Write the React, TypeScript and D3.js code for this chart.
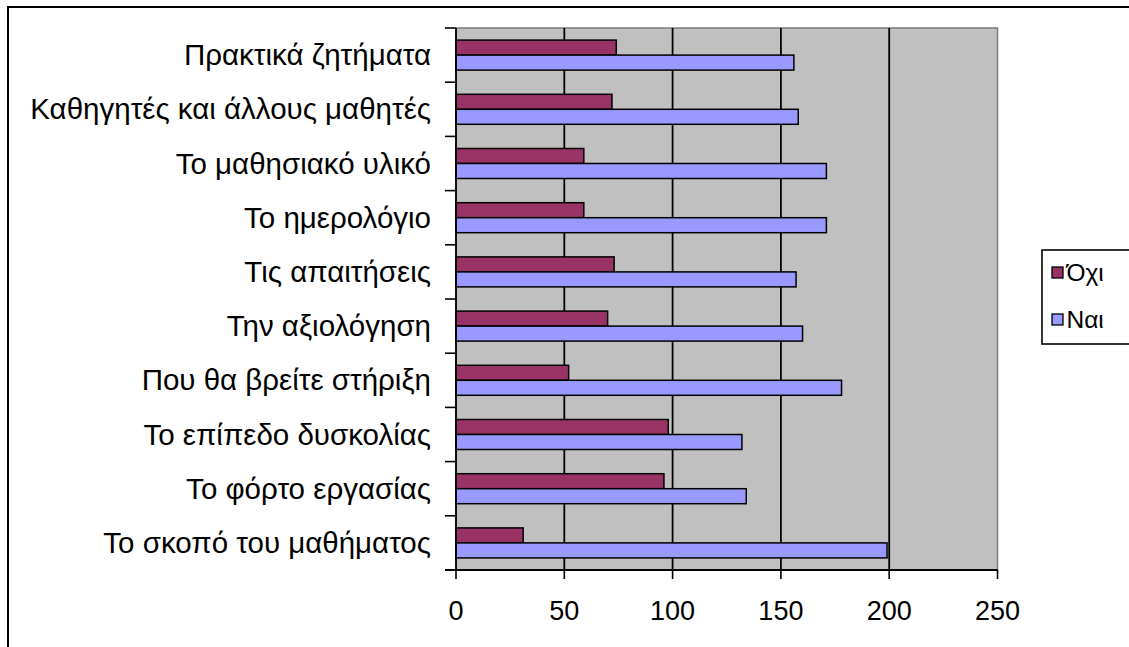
import React from "react";
import * as d3 from "d3";

// Categories listed top to bottom as they appear on the vertical axis
const categories = [
  "Πρακτικά ζητήματα",
  "Καθηγητές και άλλους μαθητές",
  "Το μαθησιακό υλικό",
  "Το ημερολόγιο",
  "Τις απαιτήσεις",
  "Την αξιολόγηση",
  "Που θα βρείτε στήριξη",
  "Το επίπεδο δυσκολίας",
  "Το φόρτο εργασίας",
  "Το σκοπό του μαθήματος",
];

const seriesNames = ["Όχι", "Ναι"];
const noValues = [74, 72, 59, 59, 73, 70, 52, 98, 96, 31];
const yesValues = [156, 158, 171, 171, 157, 160, 178, 132, 134, 199];
const xTicks = [0, 50, 100, 150, 200, 250];

const seriesColors: Record<string, string> = { "Όχι": "#993366", "Ναι": "#9999FF" };

const W = 1129;
const H = 647;
const FONT = "'Liberation Sans', Arial, sans-serif";
const CAT_SIZE = 29.5;
const TICK_SIZE = 27;
const LEGEND_SIZE = 24.5;

export default function App() {
  const plot = { left: 456, right: 997.5, top: 28, bottom: 570 };
  const x = d3.scaleLinear().domain([0, 250]).range([plot.left, plot.right]);
  const y = d3.scaleBand<string>().domain(categories).range([plot.top, plot.bottom]).padding(0);
  const sub = d3
    .scaleBand<string>()
    .domain(seriesNames)
    .range([0, y.step()])
    .paddingInner(0)
    .paddingOuter(0.807);

  const valuesBySeries: Record<string, number[]> = { "Όχι": noValues, "Ναι": yesValues };
  const boundaries = categories.map((c) => y(c) as number).concat([plot.bottom]);

  return (
    <svg
      width={W}
      height={H}
      style={{ position: "absolute", left: 0, top: 0, display: "block", background: "#fff" }}
      fontFamily={FONT}
    >
      {/* chart frame, right and bottom sides run past the page */}
      <rect x={8} y={7} width={W + 20} height={H + 20} fill="#fff" stroke="#000" strokeWidth={2} />

      {/* plot area */}
      <rect
        x={plot.left}
        y={plot.top}
        width={plot.right - plot.left}
        height={plot.bottom - plot.top}
        fill="#C0C0C0"
        stroke="#808080"
        strokeWidth={1.6}
      />

      {/* vertical gridlines */}
      {xTicks
        .filter((t) => t > 0 && t < 250)
        .map((t) => (
          <line key={t} x1={x(t)} x2={x(t)} y1={plot.top} y2={plot.bottom} stroke="#000" strokeWidth={1.8} />
        ))}

      {/* bars */}
      {categories.map((c, i) =>
        seriesNames.map((s) => (
          <rect
            key={c + s}
            x={x(0)}
            y={(y(c) as number) + (sub(s) as number)}
            width={x(valuesBySeries[s][i]) - x(0)}
            height={sub.bandwidth()}
            fill={seriesColors[s]}
            stroke="#000"
            strokeWidth={1.5}
          />
        ))
      )}

      {/* category axis */}
      <line x1={plot.left} x2={plot.left} y1={plot.top} y2={plot.bottom} stroke="#000" strokeWidth={1.8} />
      {boundaries.map((b, i) => (
        <line key={i} x1={plot.left - 11} x2={plot.left} y1={b} y2={b} stroke="#000" strokeWidth={1.6} />
      ))}
      {categories.map((c) => (
        <text
          key={c}
          x={431}
          y={(y(c) as number) + y.bandwidth() / 2 + 10}
          textAnchor="end"
          fontSize={CAT_SIZE}
          fill="#000"
        >
          {c}
        </text>
      ))}

      {/* value axis */}
      <line x1={plot.left - 11} x2={plot.right} y1={plot.bottom} y2={plot.bottom} stroke="#000" strokeWidth={1.8} />
      {xTicks.map((t) => (
        <g key={t}>
          <line x1={x(t)} x2={x(t)} y1={plot.bottom} y2={plot.bottom + 9} stroke="#000" strokeWidth={1.6} />
          <text x={x(t)} y={620} textAnchor="middle" fontSize={TICK_SIZE} fill="#000">
            {t}
          </text>
        </g>
      ))}

      {/* legend */}
      <rect x={1042} y={250} width={120} height={94} fill="#fff" stroke="#000" strokeWidth={1.6} />
      {["Όχι", "Ναι"].map((s, i) => (
        <g key={s} transform={`translate(1052, ${267 + i * 47})`}>
          <rect x={0} y={0} width={11} height={11} fill={seriesColors[s]} stroke="#000" strokeWidth={1.3} />
          <text x={14.5} y={14} fontSize={LEGEND_SIZE} fill="#000">
            {s}
          </text>
        </g>
      ))}
    </svg>
  );
}
